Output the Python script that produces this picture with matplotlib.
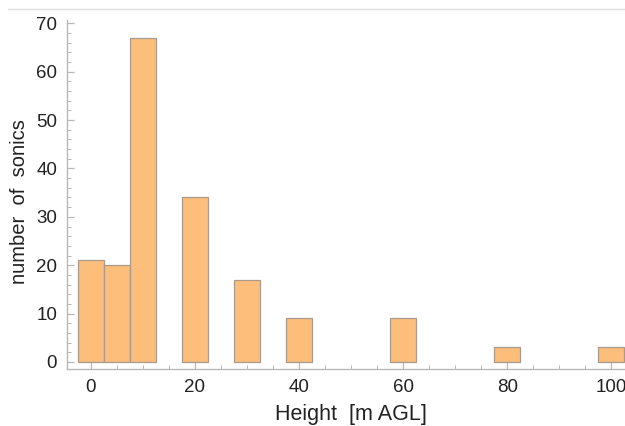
import numpy as np
import matplotlib.pyplot as plt
from matplotlib.lines import Line2D
from matplotlib.ticker import MultipleLocator

# histogram of sonic heights, 5 m bins
bin_centers = [0, 5, 10, 20, 30, 40, 60, 80, 100]
counts = [21, 20, 67, 34, 17, 9, 9, 3, 3]
bin_width = 5

plt.rcParams['font.family'] = ['Liberation Sans', 'DejaVu Sans']

fig = plt.figure(figsize=(6.25, 4.26), dpi=100)
ax = fig.add_axes([0.107, 0.134, 0.893, 0.819])

ax.bar(bin_centers, counts, width=bin_width, color='#fdbd7b',
       edgecolor='#a89a8c', linewidth=0.9, zorder=2)

ax.set_xlim(-4.6, 102.6)
ax.set_ylim(-1.45, 70.7)
ax.xaxis.set_major_locator(MultipleLocator(20))
ax.xaxis.set_minor_locator(MultipleLocator(5))
ax.yaxis.set_major_locator(MultipleLocator(10))
ax.yaxis.set_minor_locator(MultipleLocator(2))

for s in ['top', 'right']:
    ax.spines[s].set_visible(False)
for s in ['left', 'bottom']:
    ax.spines[s].set_color('#b8b8b8')
    ax.spines[s].set_linewidth(1.0)

ax.tick_params(which='both', direction='in', color='#b8b8b8', labelsize=13.5,
               labelcolor='#222222')
ax.tick_params(which='major', length=5, width=0.9, pad=7)
ax.tick_params(which='minor', length=3, width=0.7)

ax.set_xlabel('Height  [m AGL]', fontsize=15.5, color='#222222')
ax.set_ylabel('number  of  sonics', fontsize=14.5, color='#222222')
ax.xaxis.set_label_coords(0.509, -0.101)
ax.yaxis.set_label_coords(-0.068, 0.481)

# thin gray rule across the top
fig.add_artist(Line2D([0.013, 1.0], [0.979, 0.979], transform=fig.transFigure,
                      color='#e0e0e0', linewidth=1.0))

plt.savefig('out.png', dpi=100)
